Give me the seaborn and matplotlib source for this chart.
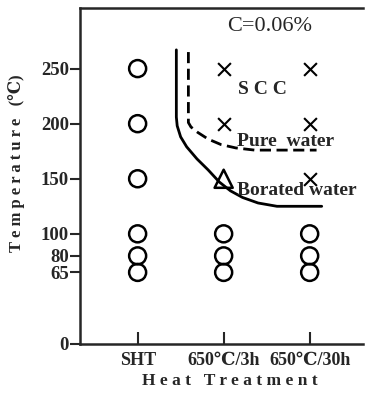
import numpy as np
import pandas as pd
import matplotlib
matplotlib.use("Agg")
import matplotlib.pyplot as plt
import seaborn as sns

# heat treatments on the x axis and test temperatures (deg C)
treatments = ['SHT', '650℃/3h', '650℃/30h']
temps = [250, 200, 150, 100, 80, 65]

# result at each temperature: 'ok' = no cracking, 'scc' = cracked, 'tri' = borated-water boundary point
res_sht = ['ok', 'ok', 'ok', 'ok', 'ok', 'ok']
res_3h = ['scc', 'scc', 'tri', 'ok', 'ok', 'ok']
res_30h = ['scc', 'scc', 'scc', 'ok', 'ok', 'ok']

# SCC boundary curves (x in treatment-index units)
borated_x = [0.45, 0.45, 0.46, 0.50, 0.57, 0.69, 0.82, 0.95, 1.08, 1.22, 1.40, 1.62, 2.14]
borated_t = [267, 206, 198, 188, 179, 168, 158, 147, 139, 133, 128, 125, 125]
pure_x = [0.59, 0.59, 0.62, 0.70, 0.82, 0.97, 1.14, 1.36, 2.08]
pure_t = [265, 201, 197, 192, 186, 181, 178, 176, 176]

rows = []
for tr, res in zip(treatments, [res_sht, res_3h, res_30h]):
    for t, r in zip(temps, res):
        rows.append({'pos': treatments.index(tr), 'temp': t, 'result': r})
df = pd.DataFrame(rows)

sns.set_style('ticks')
plt.rcParams['font.family'] = ['Liberation Serif', 'DejaVu Serif', 'DejaVu Sans']
plt.rcParams['font.weight'] = 'bold'

fig = plt.figure(figsize=(3.66, 4.01), dpi=100)
ax = fig.add_axes([80 / 366, 1 - 344 / 401, 283 / 366, 336 / 401])

sns.scatterplot(data=df[df.result == 'ok'], x='pos', y='temp', marker='o', s=150,
                facecolor='none', edgecolor='black', linewidth=1.8, ax=ax, zorder=3)
sns.scatterplot(data=df[df.result == 'scc'], x='pos', y='temp', marker='x', s=85,
                color='black', linewidth=1.5, ax=ax, zorder=3)
sns.scatterplot(data=df[df.result == 'tri'], x='pos', y='temp', marker='^', s=170,
                facecolor='none', edgecolor='black', linewidth=1.8, ax=ax, zorder=3)

sns.lineplot(x=borated_x, y=borated_t, sort=False, estimator=None, color='black', lw=2, ax=ax)
sns.lineplot(x=pure_x, y=pure_t, sort=False, estimator=None, color='black', lw=2,
             linestyle=(0, (4, 2)), ax=ax)

ax.set_xlim(-0.67, 2.62)
ax.set_ylim(0, 305)
ax.set_xticks(range(len(treatments)))
ax.set_xticklabels(treatments, fontsize=13, fontweight='bold')
ax.set_yticks([0, 65, 80, 100, 150, 200, 250])
ax.set_yticklabels(['0', '65', '80', '100', '150', '200', '250'], fontsize=13.5, fontweight='bold')
ax.tick_params(axis='y', direction='out', length=7, width=1.5, pad=1)
ax.tick_params(axis='x', direction='in', length=9, width=1.5, pad=6)

for side in ['left', 'top', 'bottom']:
    ax.spines[side].set_linewidth(1.8)
ax.spines['right'].set_visible(False)

ax.set_xlabel('H e a t   T r e a t m e n t', fontsize=12.5, fontweight='bold')
ax.set_ylabel('T e m p e r a t u r e   (℃)', fontsize=12, fontweight='bold')
ax.xaxis.set_label_coords(0.53, -0.086)
ax.yaxis.set_label_coords(-0.194, 0.539)

ax.text(1.54, 288, 'C=0.06%', fontsize=16, fontweight='normal', ha='center', va='center')
ax.text(1.45, 231, 'S C C', fontsize=14, ha='center', va='center')
ax.text(1.16, 184, 'Pure  water', fontsize=14, ha='left', va='center')
ax.text(1.16, 139, 'Borated water', fontsize=14, ha='left', va='center')

plt.savefig('out.png', dpi=100)
